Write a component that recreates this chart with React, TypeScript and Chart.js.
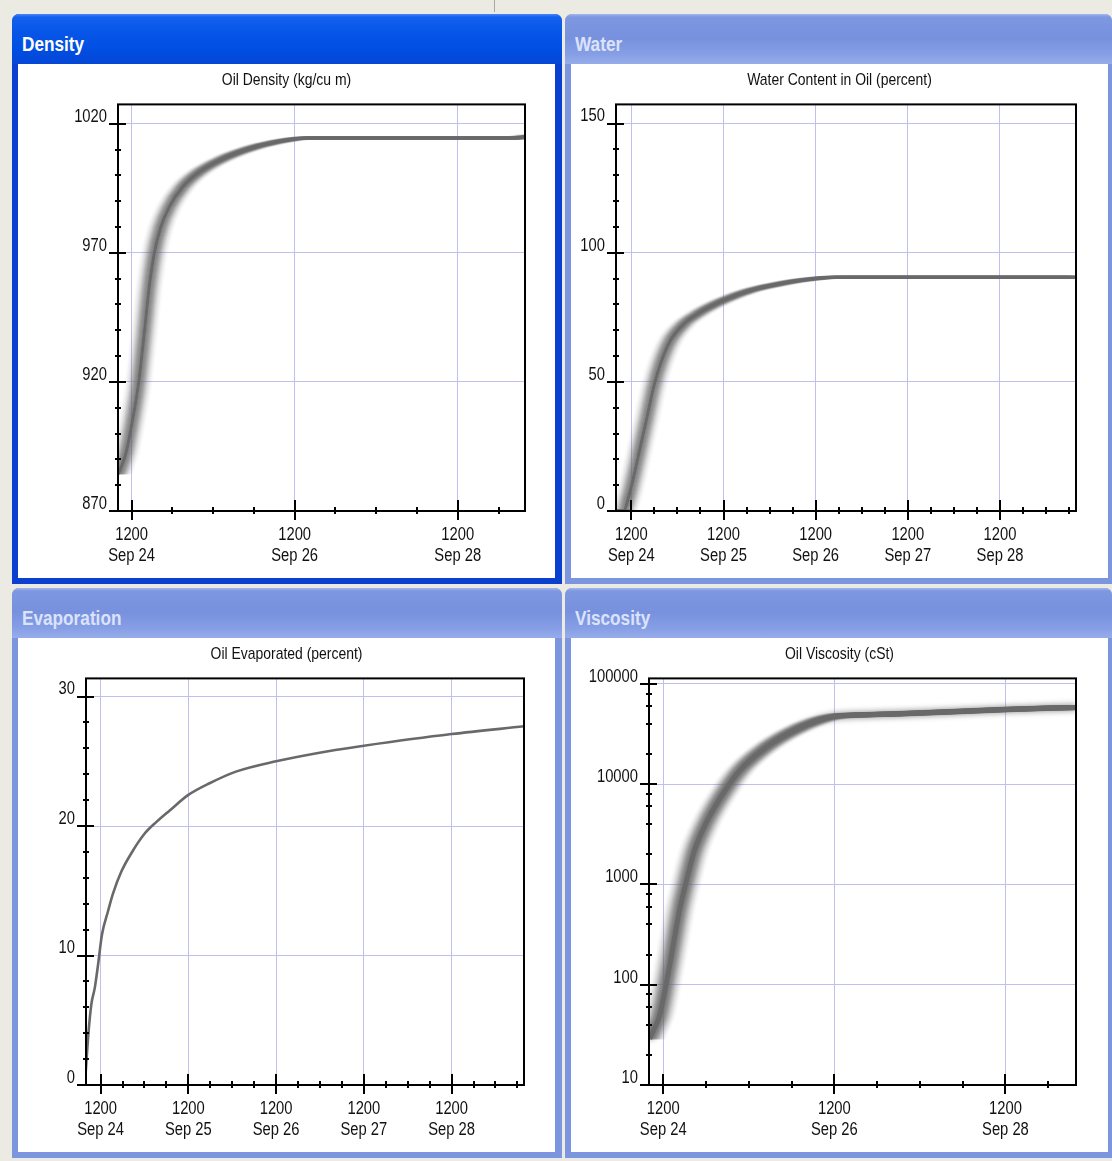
import React, { useEffect, useRef } from "react";
import { Chart, registerables } from "chart.js";
Chart.register(...registerables);

const FONT = '"Liberation Sans", Arial, sans-serif';
const CONDENSE = 0.82;
const GRID = "#c0c0f0";

// x values: hours relative to 1200 Sep 24
const X_MIN = -4;
const X_MAX = 115.8;

const xMajorEvery2Days = [0, 48, 96];
const xLabelsEvery2Days = [["1200", "Sep 24"], ["1200", "Sep 26"], ["1200", "Sep 28"]];
const xMajorDaily = [0, 24, 48, 72, 96];
const xLabelsDaily = [["1200", "Sep 24"], ["1200", "Sep 25"], ["1200", "Sep 26"], ["1200", "Sep 27"], ["1200", "Sep 28"]];

// Density (kg/cu m)
const densityHours = [-3.9, -1.65, 0.3, 2.06, 3.73, 5.2, 6.67, 8.6, 11.1, 15, 19.9, 26.8, 34.6, 42.4, 48.3, 51.2, 80, 114, 115.8];
const densityValues = [884.2, 892.5, 905.4, 919.6, 938.9, 956.9, 969.8, 980, 987.8, 995.5, 1001.3, 1006.4, 1010.3, 1012.9, 1014.2, 1014.5, 1014.5, 1014.5, 1015.3];
const densityYTicks = [870, 920, 970, 1020];
const densityYLabels = ["870", "920", "970", "1020"];

// Water content (percent)
const waterHours = [-4.0, -2.0, -0.7, 0.6, 2.35, 4.1, 5.8, 7.6, 10.2, 13.7, 18, 24.1, 31, 39.7, 48, 52.8, 80, 115.8];
const waterValues = [0, 0, 5.5, 13.3, 24.9, 36.5, 48, 57.1, 66.1, 72.5, 77, 81.6, 85.4, 88.3, 90, 90.5, 90.5, 90.5];
const waterYTicks = [0, 50, 100, 150];
const waterYLabels = ["0", "50", "100", "150"];

// Evaporated (percent)
const evapHours = [-4.2, -3.3, -2.5, -1.6, -0.7, 0.36, 2, 3.4, 5.7, 8.4, 12, 15.2, 18.9, 24, 29.8, 37, 48, 62.6, 72, 96, 115.8];
const evapValues = [0.5, 4.1, 6.3, 7.5, 9.3, 11.6, 13.4, 14.8, 16.5, 17.9, 19.4, 20.3, 21.2, 22.4, 23.3, 24.2, 25.0, 25.8, 26.2, 27.1, 27.7];
const evapYTicks = [0, 10, 20, 30];
const evapYLabels = ["0", "10", "20", "30"];

// Viscosity (cSt)
const viscHours = [-3.8, -2.6, -1.2, -0.3, 0.65, 2.05, 3.45, 4.85, 6.25, 8.6, 12.3, 17, 21.7, 28.2, 35.7, 43.2, 48, 54.3, 66.5, 96, 115.8];
const viscValues = [28.7, 36, 47, 64, 95, 175, 340, 620, 1000, 2100, 4300, 8300, 14000, 22500, 33000, 43000, 47500, 49000, 50500, 55700, 58300];
const viscYTicks = [10, 100, 1000, 10000, 100000];
const viscYLabels = ["10", "100", "1000", "10000", "100000"];
const viscMinorMultipliers = [2, 4, 6, 8];

function stepTicks(from: number, to: number, step: number): number[] {
  const out: number[] = [];
  for (let t = Math.ceil(from / step) * step; t <= to + 1e-9; t += step) out.push(t);
  return out;
}

const viscMinor: number[] = [];
viscYTicks.slice(0, -1).forEach((d) => viscMinorMultipliers.forEach((m) => viscMinor.push(d * m)));

type Smear = { w: number; sigma: number; alpha: number; blur?: number; blurAlpha?: number };

type PlotCfg = {
  title: string;
  hours: number[];
  values: number[];
  log?: boolean;
  yMin: number;
  yMax: number;
  yMajor: number[];
  yLabels: string[];
  yMinor: number[];
  xMajor: number[];
  xLabels: string[][];
  xMinor: number[];
  yAxisWidth: number;
  padRight: number;
  lineWidth: number;
  smear: Smear | null;
};

// draws the library's text horizontally condensed (narrow font look)
const condensePlugin = {
  id: "condense",
  beforeInit(chart: any) {
    const ctx = chart.ctx;
    const orig = ctx.fillText.bind(ctx);
    ctx.fillText = (text: string, x: number, y: number, maxWidth?: number) => {
      ctx.save();
      ctx.translate(x, y);
      ctx.scale(CONDENSE, 1);
      if (maxWidth === undefined || maxWidth === null) orig(text, 0, 0);
      else orig(text, 0, 0, maxWidth / CONDENSE);
      ctx.restore();
    };
  },
};

const smearPlugin = {
  id: "smear",
  beforeDatasetDraw(chart: any, args: any, opts: any) {
    if (!opts || !opts.w) return;
    const ctx = chart.ctx;
    const a = chart.chartArea;
    ctx.save();
    ctx.beginPath();
    ctx.rect(a.left, a.top, a.right - a.left, a.bottom - a.top);
    ctx.clip();
    if (opts.blur) {
      ctx.save();
      ctx.filter = `blur(${opts.blur}px)`;
      ctx.globalAlpha = opts.blurAlpha || 1;
      args.meta.controller.draw();
      ctx.restore();
    }
    for (let dx = -opts.w; dx <= opts.w; dx++) {
      if (dx === 0) continue;
      ctx.save();
      ctx.globalAlpha = opts.alpha * Math.exp(-(dx * dx) / (2 * opts.sigma * opts.sigma));
      ctx.translate(dx, 0);
      args.meta.controller.draw();
      ctx.restore();
    }
    ctx.restore();
  },
};

const framePlugin = {
  id: "frame",
  afterDatasetsDraw(chart: any, _args: any, o: any) {
    const { ctx, chartArea: a, scales } = chart;
    const xs = scales.x;
    const ys = scales.y;
    ctx.save();
    ctx.strokeStyle = "#000";
    ctx.lineWidth = 2;
    ctx.strokeRect(a.left, a.top, a.right - a.left, a.bottom - a.top);
    ctx.beginPath();
    for (const t of o.xMinor) {
      const px = Math.round(xs.getPixelForValue(t));
      const major = o.xMajor.indexOf(t) >= 0;
      ctx.moveTo(px, a.bottom - (major ? 11 : 4));
      ctx.lineTo(px, a.bottom + (major ? 9 : 3));
    }
    for (const v of o.yMinor) {
      const py = Math.round(ys.getPixelForValue(v));
      ctx.moveTo(a.left - 3, py);
      ctx.lineTo(a.left + 3, py);
    }
    for (const v of o.yMajor) {
      const py = Math.round(ys.getPixelForValue(v));
      ctx.moveTo(a.left - 9, py);
      ctx.lineTo(a.left + 8, py);
    }
    ctx.stroke();
    ctx.restore();
  },
};

function Plot({ cfg }: { cfg: PlotCfg }) {
  const ref = useRef<HTMLCanvasElement | null>(null);
  useEffect(() => {
    const canvas = ref.current;
    if (!canvas) return;
    const tickFont = { family: FONT, size: 18, lineHeight: 1.2 };
    const chart = new Chart(canvas, {
      type: "line",
      data: {
        datasets: [
          {
            data: cfg.hours.map((h, i) => ({ x: h, y: cfg.values[i] })),
            borderColor: "#696969",
            borderWidth: cfg.lineWidth,
            pointRadius: 0,
            cubicInterpolationMode: "monotone",
            fill: false,
            xAxisID: "x",
            yAxisID: "y",
          },
        ],
      },
      options: {
        responsive: false,
        animation: false,
        events: [],
        layout: { padding: 0 },
        plugins: {
          legend: { display: false },
          tooltip: { enabled: false },
          title: {
            display: true,
            text: cfg.title,
            color: "#111",
            font: { family: FONT, size: 17, weight: "normal" },
            padding: { top: 6, bottom: 14 },
          },
          smear: cfg.smear || {},
          frame: { xMajor: cfg.xMajor, xMinor: cfg.xMinor, yMajor: cfg.yMajor, yMinor: cfg.yMinor },
        } as any,
        scales: {
          x: {
            type: "linear",
            min: X_MIN,
            max: X_MAX,
            afterBuildTicks: (s: any) => {
              s.ticks = cfg.xMajor.map((v) => ({ value: v }));
            },
            afterFit: (s: any) => {
              s.height = 67;
            },
            ticks: {
              autoSkip: false,
              maxRotation: 0,
              padding: 13,
              color: "#111",
              font: tickFont,
              callback: (v: any) => {
                const i = cfg.xMajor.indexOf(Number(v));
                return i >= 0 ? cfg.xLabels[i] : "";
              },
            },
            grid: { color: GRID, lineWidth: 1, drawTicks: false },
            border: { display: false },
          },
          y: {
            type: cfg.log ? "logarithmic" : "linear",
            position: "left",
            min: cfg.yMin,
            max: cfg.yMax,
            afterBuildTicks: (s: any) => {
              s.ticks = cfg.yMajor.map((v) => ({ value: v }));
            },
            afterFit: (s: any) => {
              s.width = cfg.yAxisWidth;
            },
            ticks: {
              autoSkip: false,
              padding: 11,
              labelOffset: -7,
              color: "#111",
              font: tickFont,
              callback: (v: any) => {
                const i = cfg.yMajor.indexOf(Number(v));
                return i >= 0 ? cfg.yLabels[i] : "";
              },
            },
            grid: { color: GRID, lineWidth: 1, drawTicks: false },
            border: { display: false },
          },
          // empty right-hand margin, so the title stays centred on the whole canvas
          yRight: {
            type: "linear",
            position: "right",
            display: true,
            min: 0,
            max: 1,
            afterFit: (s: any) => {
              s.width = cfg.padRight;
            },
            ticks: { display: false },
            grid: { display: false, drawTicks: false },
            border: { display: false },
          },
        } as any,
      },
      plugins: [condensePlugin, smearPlugin, framePlugin],
    } as any);
    return () => chart.destroy();
  }, [cfg]);
  return <canvas ref={ref} width={537} height={514} style={{ display: "block", width: 537, height: 514 }} />;
}

const densityCfg: PlotCfg = {
  title: "Oil Density (kg/cu m)",
  hours: densityHours,
  values: densityValues,
  yMin: 870,
  yMax: 1027.5,
  yMajor: densityYTicks,
  yLabels: densityYLabels,
  yMinor: stepTicks(870, 1020, 10),
  xMajor: xMajorEvery2Days,
  xLabels: xLabelsEvery2Days,
  xMinor: stepTicks(X_MIN, X_MAX, 12),
  yAxisWidth: 100,
  padRight: 30,
  lineWidth: 3,
  smear: { w: 13, sigma: 5, alpha: 0.46 },
};

const waterCfg: PlotCfg = {
  title: "Water Content in Oil (percent)",
  hours: waterHours,
  values: waterValues,
  yMin: 0,
  yMax: 157.4,
  yMajor: waterYTicks,
  yLabels: waterYLabels,
  yMinor: stepTicks(0, 150, 10),
  xMajor: xMajorDaily,
  xLabels: xLabelsDaily,
  xMinor: stepTicks(X_MIN, X_MAX, 6),
  yAxisWidth: 45,
  padRight: 32,
  lineWidth: 3,
  smear: { w: 13, sigma: 5, alpha: 0.46 },
};

const evapCfg: PlotCfg = {
  title: "Oil Evaporated (percent)",
  hours: evapHours,
  values: evapValues,
  yMin: 0,
  yMax: 31.4,
  yMajor: evapYTicks,
  yLabels: evapYLabels,
  yMinor: stepTicks(0, 30, 2),
  xMajor: xMajorDaily,
  xLabels: xLabelsDaily,
  xMinor: stepTicks(X_MIN, X_MAX, 6),
  yAxisWidth: 68,
  padRight: 31,
  lineWidth: 2.6,
  smear: null,
};

const viscCfg: PlotCfg = {
  title: "Oil Viscosity (cSt)",
  hours: viscHours,
  values: viscValues,
  log: true,
  yMin: 10,
  yMax: 113700,
  yMajor: viscYTicks,
  yLabels: viscYLabels,
  yMinor: viscMinor,
  xMajor: xMajorEvery2Days,
  xLabels: xLabelsEvery2Days,
  xMinor: stepTicks(X_MIN, X_MAX, 12),
  yAxisWidth: 78,
  padRight: 32,
  lineWidth: 5,
  smear: { w: 14, sigma: 6, alpha: 0.3, blur: 3, blurAlpha: 0.9 },
};

function Panel(props: { x: number; y: number; w: number; active: boolean; title: string; cfg: PlotCfg }) {
  const { x, y, w, active, title, cfg } = props;
  const frame = active ? "#0a3fcf" : "#7b95df";
  const header = active
    ? "linear-gradient(180deg, #4a86f7 0px, #1360ee 3px, #0756e8 18px, #004ee2 36px, #0647d6 50px)"
    : "linear-gradient(180deg, #a3b6ee 0px, #7e97e1 3px, #7891de 24px, #869ee5 40px, #96acea 50px)";
  return (
    <div
      style={{
        position: "absolute",
        left: x,
        top: y,
        width: w,
        height: 570,
        background: frame,
        borderRadius: "7px 7px 0 0",
        overflow: "hidden",
      }}
    >
      <div style={{ position: "absolute", left: 0, top: 0, width: "100%", height: 50, background: header }} />
      <div
        style={{
          position: "absolute",
          left: 10,
          top: 18,
          fontFamily: FONT,
          fontWeight: "bold",
          fontSize: 20,
          lineHeight: "24px",
          color: active ? "#ffffff" : "#dbe3fa",
          whiteSpace: "nowrap",
          transform: "scaleX(0.86)",
          transformOrigin: "0 0",
        }}
      >
        {title}
      </div>
      <div
        style={{
          position: "absolute",
          left: 6,
          top: 50,
          width: 537,
          height: 514,
          background: "#ffffff",
        }}
      >
        <Plot cfg={cfg} />
      </div>
    </div>
  );
}

export default function App() {
  return (
    <div
      style={{
        position: "absolute",
        left: 0,
        top: 0,
        width: 1112,
        height: 1161,
        background: "#ecebe3",
        overflow: "hidden",
      }}
    >
      <div style={{ position: "absolute", left: 494, top: 0, width: 1, height: 12, background: "#a8a8a8" }} />
      <Panel x={12} y={14} w={550} active={true} title="Density" cfg={densityCfg} />
      <Panel x={565} y={14} w={547} active={false} title="Water" cfg={waterCfg} />
      <Panel x={12} y={588} w={550} active={false} title="Evaporation" cfg={evapCfg} />
      <Panel x={565} y={588} w={547} active={false} title="Viscosity" cfg={viscCfg} />
    </div>
  );
}
